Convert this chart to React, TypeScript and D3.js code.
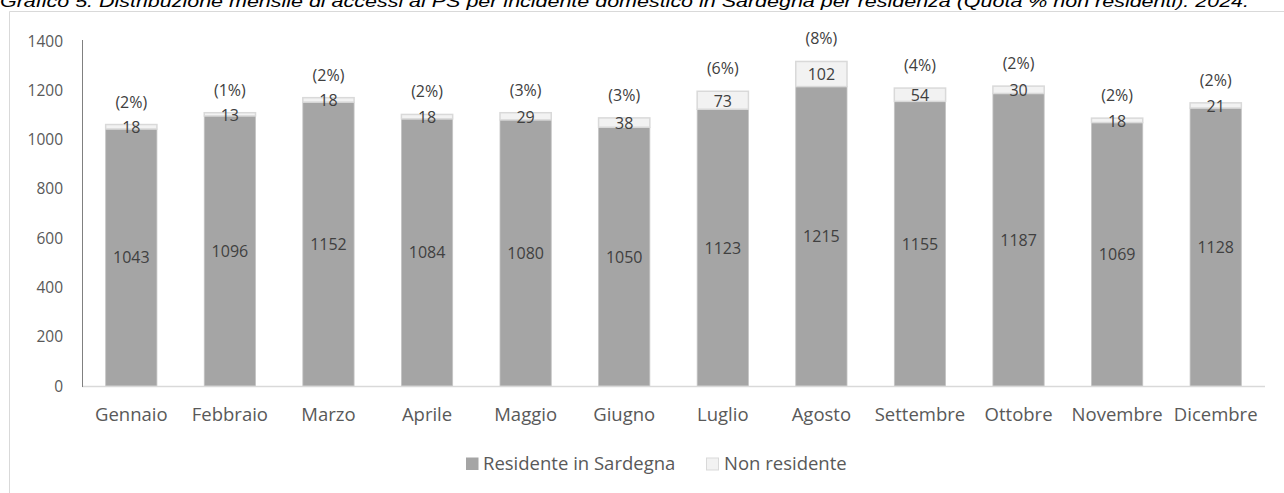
import React from "react";
import * as d3 from "d3";

const months = ["Gennaio","Febbraio","Marzo","Aprile","Maggio","Giugno","Luglio","Agosto","Settembre","Ottobre","Novembre","Dicembre"];
const residenti = [1043,1096,1152,1084,1080,1050,1123,1215,1155,1187,1069,1128];
const nonResidenti = [18,13,18,18,29,38,73,102,54,30,18,21];
const quote = ["(2%)","(1%)","(2%)","(2%)","(3%)","(3%)","(6%)","(8%)","(4%)","(2%)","(2%)","(2%)"];
const yTicks = [0,200,400,600,800,1000,1200,1400];
const seriesNames = ["Residente in Sardegna","Non residente"];

const W = 1284, H = 493;
const TITLE = "Grafico 5. Distribuzione mensile di accessi al PS per incidente domestico in Sardegna per residenza (Quota % non residenti). 2024.";
const FONT = "'Open Sans', sans-serif";

export default function App() {
  const x = d3.scaleBand<string>().domain(months).range([82, 1265]).paddingInner(0.48).paddingOuter(0.24);
  const y = d3.scaleLinear().domain([0, 1400]).range([386, 41]);
  const colRes = "#a5a5a5";
  const colNon = "#f2f2f2";
  return (
    <svg width={W} height={H} style={{ position: "absolute", left: 0, top: 0, background: "#fff" }}>
      <rect x={0} y={0} width={W} height={H} fill="#fff" />
      {/* frame */}
      <line x1={9.5} y1={11.5} x2={W} y2={11.5} stroke="#d9d9d9" />
      <line x1={9.5} y1={11.5} x2={9.5} y2={H} stroke="#d9d9d9" />
      {/* title, clipped at top as in the reference */}
      <text x={0} y={6.5} fontFamily="'Liberation Sans', Arial, sans-serif" fontStyle="italic" fontSize={16}
        textLength={1249} lengthAdjust="spacingAndGlyphs" fill="#000">{TITLE}</text>
      {/* y ticks */}
      {yTicks.map(t => (
        <text key={t} x={63} y={y(t) + 5.5} textAnchor="end" fontFamily={FONT} fontSize={15.5} fill="#595959">{t}</text>
      ))}
      {/* bars */}
      {months.map((m, i) => {
        const bx = x(m)!;
        const bw = x.bandwidth();
        const r = residenti[i], n = nonResidenti[i];
        const cx = bx + bw / 2;
        return (
          <g key={m}>
            <rect x={bx} y={y(r)} width={bw} height={y(0) - y(r)} fill={colRes} stroke="#c4c4c4" strokeWidth={0.8} />
            <rect x={bx} y={y(r + n)} width={bw} height={y(r) - y(r + n)} fill={colNon} stroke="#d9d9d9" strokeWidth={1.5} />
            <text x={cx} y={y(r / 2) + 6} textAnchor="middle" fontFamily={FONT} fontSize={16} fill="#404040">{r}</text>
            <text x={cx} y={y(r + n / 2) + 6.3} textAnchor="middle" fontFamily={FONT} fontSize={16} fill="#404040">{n}</text>
            <text x={cx} y={y(r + n) - 17} textAnchor="middle" fontFamily={FONT} fontSize={16} fill="#404040">{quote[i]}</text>
            <text x={cx} y={420.5} textAnchor="middle" fontFamily={FONT} fontSize={18.5} fill="#595959">{m}</text>
          </g>
        );
      })}
      {/* axes */}
      <line x1={82} y1={386.5} x2={1265} y2={386.5} stroke="#d9d9d9" strokeWidth={1.5} />
      <line x1={82.5} y1={40} x2={82.5} y2={387} stroke="#808080" strokeWidth={1} />
      {/* legend */}
      <rect x={466} y={457.5} width={12.5} height={12.5} fill={colRes} />
      <text x={483} y={470} fontFamily={FONT} fontSize={18.5} fill="#595959">{seriesNames[0]}</text>
      <rect x={706.5} y={458} width={12} height={12} fill={colNon} stroke="#d9d9d9" />
      <text x={724} y={470} fontFamily={FONT} fontSize={18.5} fill="#595959">{seriesNames[1]}</text>
    </svg>
  );
}
